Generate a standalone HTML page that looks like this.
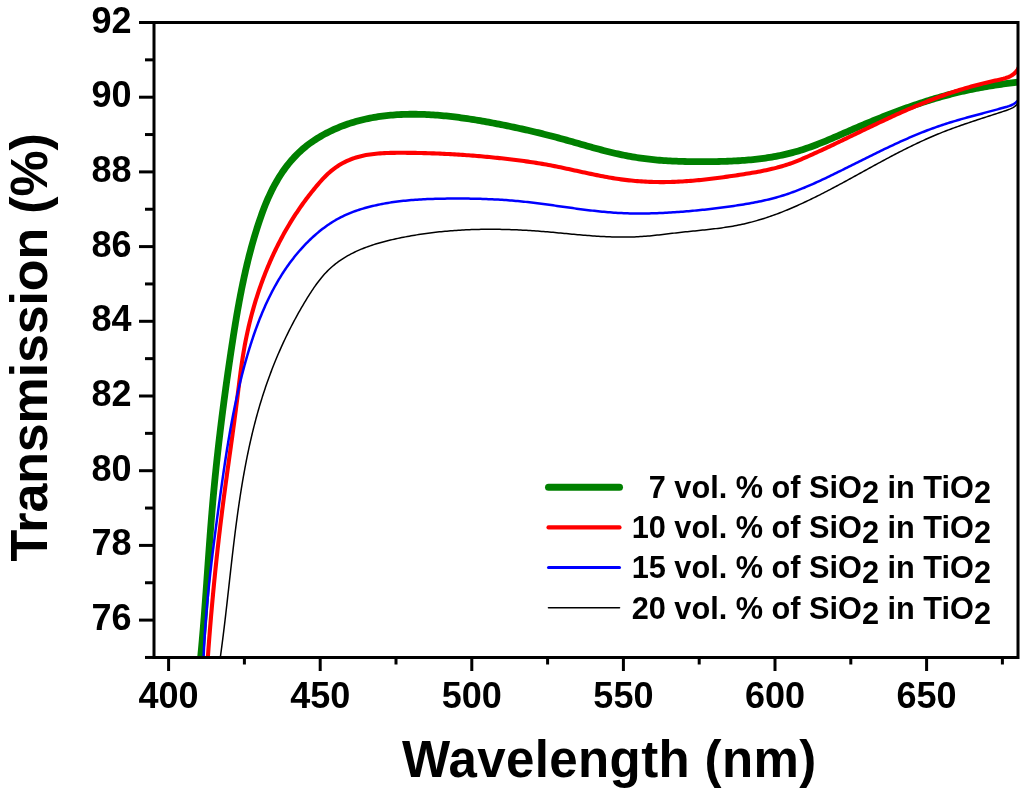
<!DOCTYPE html>
<html><head><meta charset="utf-8"><style>
html,body{margin:0;padding:0;background:#fff;}
body{width:1024px;height:794px;overflow:hidden;font-family:"Liberation Sans", sans-serif;}
svg{display:block;filter:blur(0.4px);}
</style></head><body>
<svg width="1024" height="794" viewBox="0 0 1024 794">
<defs><clipPath id="c"><rect x="154.0" y="22.5" width="864.0" height="635.0"/></clipPath></defs>
<g clip-path="url(#c)" fill="none" stroke-linejoin="round" stroke-linecap="round">
<path d="M200.36,660.00 L200.57,657.89 L200.78,655.78 L200.98,653.67 L201.18,651.56 L201.37,649.44 L201.57,647.33 L201.76,645.22 L201.95,643.11 L202.14,641.00 L202.32,638.89 L202.50,636.77 L202.69,634.66 L202.86,632.55 L203.04,630.44 L203.22,628.32 L203.39,626.21 L203.56,624.10 L203.73,621.99 L203.90,619.87 L204.07,617.76 L204.23,615.65 L204.40,613.53 L204.56,611.42 L204.72,609.31 L204.88,607.19 L205.04,605.08 L205.20,602.97 L205.36,600.85 L205.51,598.74 L205.67,596.62 L205.82,594.51 L205.98,592.40 L206.13,590.28 L206.28,588.17 L206.43,586.05 L206.59,583.94 L206.74,581.83 L206.89,579.71 L207.04,577.60 L207.19,575.48 L207.34,573.37 L207.49,571.26 L207.64,569.14 L207.79,567.03 L207.94,564.91 L208.09,562.80 L208.24,560.69 L208.39,558.57 L208.54,556.46 L208.70,554.34 L208.85,552.23 L209.00,550.12 L209.15,548.00 L209.31,545.89 L209.46,543.78 L209.62,541.66 L209.78,539.55 L209.94,537.44 L210.09,535.32 L210.25,533.21 L210.42,531.10 L210.58,528.98 L210.74,526.87 L210.91,524.76 L211.07,522.65 L211.24,520.53 L211.41,518.42 L211.58,516.31 L211.76,514.20 L211.93,512.08 L212.11,509.97 L212.29,507.86 L212.47,505.75 L212.65,503.64 L212.83,501.53 L213.02,499.42 L213.21,497.30 L213.40,495.19 L213.59,493.08 L213.79,490.97 L213.99,488.86 L214.19,486.75 L214.39,484.64 L214.59,482.53 L214.80,480.42 L215.01,478.31 L215.22,476.20 L215.43,474.10 L215.65,471.99 L215.86,469.88 L216.08,467.77 L216.30,465.66 L216.52,463.55 L216.75,461.45 L216.98,459.34 L217.21,457.23 L217.44,455.12 L217.67,453.02 L217.90,450.91 L218.14,448.80 L218.38,446.69 L218.62,444.59 L218.86,442.48 L219.11,440.38 L219.35,438.27 L219.60,436.16 L219.85,434.06 L220.10,431.95 L220.35,429.85 L220.61,427.74 L220.87,425.64 L221.13,423.54 L221.39,421.43 L221.65,419.33 L221.91,417.22 L222.18,415.12 L222.45,413.02 L222.72,410.91 L222.99,408.81 L223.26,406.71 L223.54,404.61 L223.81,402.50 L224.09,400.40 L224.37,398.30 L224.65,396.20 L224.93,394.10 L225.22,391.99 L225.51,389.89 L225.79,387.79 L226.08,385.69 L226.37,383.59 L226.67,381.49 L226.96,379.39 L227.26,377.29 L227.55,375.19 L227.85,373.09 L228.15,371.00 L228.45,368.90 L228.76,366.80 L229.06,364.70 L229.37,362.60 L229.68,360.51 L229.98,358.41 L230.29,356.31 L230.61,354.21 L230.92,352.12 L231.23,350.02 L231.55,347.92 L231.87,345.83 L232.19,343.73 L232.51,341.64 L232.83,339.54 L233.16,337.45 L233.48,335.35 L233.81,333.26 L234.15,331.17 L234.48,329.08 L234.82,326.98 L235.16,324.89 L235.50,322.80 L235.85,320.71 L236.20,318.62 L236.55,316.53 L236.91,314.45 L237.27,312.36 L237.64,310.27 L238.01,308.19 L238.38,306.10 L238.76,304.02 L239.14,301.94 L239.53,299.86 L239.92,297.78 L240.32,295.70 L240.72,293.62 L241.13,291.54 L241.54,289.46 L241.96,287.39 L242.38,285.32 L242.81,283.24 L243.25,281.17 L243.69,279.10 L244.14,277.03 L244.59,274.97 L245.05,272.90 L245.52,270.84 L245.99,268.77 L246.47,266.71 L246.96,264.65 L247.46,262.60 L247.96,260.54 L248.47,258.48 L248.99,256.43 L249.51,254.38 L250.05,252.33 L250.59,250.28 L251.14,248.24 L251.70,246.19 L252.26,244.15 L252.84,242.11 L253.42,240.07 L254.02,238.03 L254.62,236.00 L255.23,233.97 L255.85,231.94 L256.48,229.91 L257.12,227.88 L257.77,225.86 L258.43,223.83 L259.10,221.81 L259.78,219.80 L260.48,217.79 L261.18,215.78 L261.90,213.77 L262.63,211.77 L263.38,209.78 L264.14,207.79 L264.92,205.81 L265.72,203.84 L266.53,201.88 L267.36,199.92 L268.21,197.97 L269.09,196.04 L269.98,194.11 L270.89,192.19 L271.82,190.29 L272.78,188.39 L273.76,186.51 L274.77,184.64 L275.79,182.79 L276.85,180.95 L277.93,179.12 L279.03,177.31 L280.16,175.51 L281.32,173.74 L282.50,171.98 L283.71,170.24 L284.94,168.52 L286.21,166.83 L287.49,165.15 L288.81,163.50 L290.15,161.86 L291.52,160.26 L292.92,158.68 L294.35,157.12 L295.80,155.59 L297.28,154.09 L298.80,152.62 L300.34,151.17 L301.90,149.76 L303.50,148.37 L305.13,147.02 L306.78,145.70 L308.46,144.41 L310.17,143.14 L311.90,141.91 L313.65,140.71 L315.42,139.54 L317.21,138.40 L319.03,137.28 L320.86,136.20 L322.70,135.15 L324.56,134.12 L326.44,133.13 L328.33,132.16 L330.23,131.22 L332.15,130.32 L334.07,129.44 L336.00,128.58 L337.94,127.76 L339.89,126.96 L341.84,126.20 L343.81,125.46 L345.78,124.74 L347.76,124.05 L349.74,123.39 L351.73,122.76 L353.73,122.15 L355.74,121.56 L357.75,121.00 L359.77,120.47 L361.80,119.96 L363.83,119.47 L365.87,119.01 L367.91,118.57 L369.96,118.16 L372.01,117.77 L374.07,117.40 L376.13,117.05 L378.20,116.72 L380.28,116.42 L382.36,116.14 L384.44,115.87 L386.53,115.63 L388.62,115.41 L390.72,115.21 L392.81,115.03 L394.92,114.87 L397.02,114.72 L399.13,114.60 L401.25,114.50 L403.36,114.41 L405.48,114.34 L407.60,114.29 L409.73,114.25 L411.85,114.23 L413.98,114.23 L416.11,114.25 L418.25,114.28 L420.38,114.33 L422.52,114.39 L424.65,114.46 L426.79,114.56 L428.93,114.66 L431.07,114.78 L433.21,114.92 L435.35,115.06 L437.50,115.23 L439.64,115.40 L441.78,115.58 L443.92,115.78 L446.07,115.99 L448.21,116.21 L450.35,116.45 L452.49,116.69 L454.63,116.95 L456.77,117.21 L458.90,117.49 L461.04,117.77 L463.17,118.06 L465.31,118.37 L467.44,118.68 L469.56,119.00 L471.69,119.33 L473.82,119.66 L475.94,120.01 L478.06,120.36 L480.17,120.72 L482.29,121.08 L484.39,121.45 L486.50,121.83 L488.60,122.21 L490.70,122.60 L492.80,122.99 L494.89,123.39 L496.98,123.79 L499.06,124.20 L501.14,124.60 L503.22,125.02 L505.29,125.43 L507.35,125.86 L509.41,126.28 L511.47,126.71 L513.53,127.14 L515.58,127.58 L517.63,128.02 L519.67,128.46 L521.72,128.91 L523.76,129.37 L525.80,129.82 L527.83,130.29 L529.87,130.76 L531.90,131.23 L533.93,131.71 L535.96,132.19 L537.99,132.68 L540.02,133.17 L542.05,133.67 L544.08,134.18 L546.11,134.69 L548.13,135.20 L550.16,135.72 L552.19,136.25 L554.22,136.78 L556.25,137.32 L558.28,137.87 L560.32,138.42 L562.35,138.98 L564.39,139.55 L566.42,140.11 L568.46,140.69 L570.50,141.27 L572.55,141.85 L574.59,142.43 L576.64,143.01 L578.68,143.60 L580.73,144.18 L582.78,144.77 L584.83,145.35 L586.89,145.93 L588.94,146.51 L591.00,147.09 L593.05,147.66 L595.11,148.22 L597.17,148.78 L599.23,149.34 L601.30,149.89 L603.36,150.43 L605.43,150.96 L607.49,151.48 L609.56,152.00 L611.63,152.50 L613.70,152.99 L615.77,153.47 L617.85,153.94 L619.92,154.39 L622.00,154.83 L624.08,155.26 L626.16,155.67 L628.24,156.07 L630.32,156.45 L632.40,156.82 L634.49,157.17 L636.57,157.51 L638.66,157.83 L640.75,158.14 L642.84,158.43 L644.93,158.71 L647.02,158.97 L649.12,159.22 L651.22,159.45 L653.32,159.67 L655.42,159.87 L657.52,160.06 L659.62,160.24 L661.73,160.40 L663.83,160.55 L665.94,160.69 L668.05,160.82 L670.16,160.93 L672.27,161.04 L674.39,161.13 L676.50,161.22 L678.62,161.30 L680.73,161.37 L682.85,161.43 L684.97,161.48 L687.09,161.53 L689.21,161.57 L691.33,161.61 L693.46,161.64 L695.58,161.66 L697.71,161.68 L699.83,161.69 L701.96,161.70 L704.08,161.70 L706.21,161.69 L708.34,161.68 L710.46,161.66 L712.59,161.64 L714.72,161.61 L716.84,161.57 L718.97,161.52 L721.10,161.46 L723.23,161.40 L725.35,161.33 L727.48,161.25 L729.60,161.17 L731.73,161.08 L733.85,160.97 L735.98,160.86 L738.10,160.74 L740.22,160.61 L742.34,160.47 L744.46,160.31 L746.58,160.15 L748.69,159.97 L750.81,159.78 L752.92,159.57 L755.03,159.35 L757.13,159.12 L759.24,158.87 L761.34,158.60 L763.43,158.32 L765.53,158.03 L767.62,157.71 L769.71,157.38 L771.79,157.04 L773.88,156.68 L775.95,156.30 L778.03,155.90 L780.09,155.48 L782.16,155.05 L784.22,154.60 L786.27,154.13 L788.32,153.64 L790.37,153.13 L792.41,152.60 L794.44,152.05 L796.47,151.48 L798.49,150.89 L800.51,150.28 L802.52,149.65 L804.53,148.99 L806.53,148.32 L808.52,147.63 L810.51,146.93 L812.50,146.21 L814.48,145.47 L816.46,144.72 L818.43,143.95 L820.40,143.18 L822.37,142.39 L824.33,141.59 L826.29,140.78 L828.25,139.97 L830.21,139.14 L832.16,138.31 L834.12,137.47 L836.07,136.63 L838.02,135.78 L839.97,134.94 L841.92,134.09 L843.87,133.23 L845.82,132.38 L847.77,131.53 L849.72,130.68 L851.67,129.83 L853.62,128.99 L855.57,128.15 L857.52,127.31 L859.48,126.48 L861.43,125.65 L863.39,124.82 L865.35,123.99 L867.31,123.17 L869.27,122.36 L871.23,121.55 L873.19,120.74 L875.16,119.94 L877.12,119.14 L879.09,118.35 L881.06,117.56 L883.03,116.77 L885.00,115.99 L886.97,115.22 L888.95,114.45 L890.93,113.69 L892.90,112.93 L894.88,112.18 L896.87,111.44 L898.85,110.70 L900.84,109.97 L902.82,109.24 L904.81,108.52 L906.80,107.81 L908.80,107.10 L910.79,106.40 L912.79,105.71 L914.79,105.02 L916.79,104.35 L918.80,103.67 L920.81,103.01 L922.81,102.36 L924.83,101.71 L926.84,101.07 L928.86,100.44 L930.88,99.82 L932.90,99.20 L934.92,98.59 L936.95,98.00 L938.98,97.41 L941.01,96.83 L943.05,96.26 L945.08,95.70 L947.12,95.15 L949.17,94.60 L951.21,94.07 L953.26,93.55 L955.32,93.03 L957.37,92.53 L959.43,92.04 L961.49,91.56 L963.56,91.08 L965.63,90.62 L967.70,90.17 L969.77,89.73 L971.85,89.30 L973.93,88.89 L976.02,88.48 L978.10,88.08 L980.19,87.69 L982.28,87.32 L984.38,86.95 L986.48,86.59 L988.57,86.24 L990.67,85.89 L992.78,85.56 L994.88,85.23 L996.98,84.91 L999.09,84.60 L1001.19,84.30 L1003.30,84.00 L1005.41,83.71 L1007.52,83.42 L1009.62,83.15 L1011.73,82.87 L1013.84,82.60 L1015.95,82.34 L1018.05,82.08" stroke="#008000" stroke-width="6.8"/>
<path d="M207.66,660.00 L207.81,657.94 L207.95,655.89 L208.10,653.84 L208.25,651.79 L208.40,649.74 L208.55,647.69 L208.71,645.64 L208.86,643.58 L209.02,641.53 L209.17,639.48 L209.33,637.43 L209.49,635.38 L209.66,633.33 L209.82,631.28 L209.98,629.23 L210.15,627.18 L210.32,625.13 L210.49,623.08 L210.66,621.03 L210.83,618.98 L211.00,616.93 L211.18,614.88 L211.36,612.83 L211.54,610.78 L211.71,608.73 L211.90,606.68 L212.08,604.63 L212.26,602.58 L212.45,600.53 L212.64,598.49 L212.83,596.44 L213.02,594.39 L213.21,592.34 L213.40,590.29 L213.60,588.24 L213.79,586.20 L213.99,584.15 L214.19,582.10 L214.39,580.05 L214.60,578.01 L214.80,575.96 L215.01,573.91 L215.21,571.87 L215.42,569.82 L215.63,567.77 L215.85,565.73 L216.06,563.68 L216.28,561.64 L216.49,559.59 L216.71,557.54 L216.93,555.50 L217.15,553.45 L217.38,551.41 L217.60,549.36 L217.83,547.32 L218.06,545.27 L218.29,543.23 L218.52,541.19 L218.75,539.14 L218.98,537.10 L219.22,535.05 L219.46,533.01 L219.70,530.97 L219.94,528.92 L220.18,526.88 L220.43,524.84 L220.67,522.80 L220.92,520.75 L221.17,518.71 L221.42,516.67 L221.67,514.63 L221.93,512.59 L222.18,510.55 L222.44,508.51 L222.70,506.47 L222.96,504.43 L223.22,502.38 L223.49,500.34 L223.75,498.31 L224.02,496.27 L224.29,494.23 L224.56,492.19 L224.83,490.15 L225.11,488.11 L225.38,486.07 L225.66,484.03 L225.93,481.99 L226.21,479.96 L226.49,477.92 L226.77,475.88 L227.05,473.84 L227.33,471.80 L227.61,469.77 L227.89,467.73 L228.18,465.69 L228.46,463.65 L228.74,461.62 L229.03,459.58 L229.31,457.54 L229.59,455.50 L229.88,453.47 L230.16,451.43 L230.44,449.39 L230.73,447.36 L231.01,445.32 L231.29,443.28 L231.58,441.24 L231.86,439.21 L232.14,437.17 L232.42,435.13 L232.70,433.09 L232.98,431.05 L233.26,429.02 L233.53,426.98 L233.81,424.94 L234.09,422.90 L234.36,420.86 L234.63,418.82 L234.90,416.78 L235.17,414.74 L235.44,412.70 L235.71,410.66 L235.97,408.63 L236.24,406.58 L236.50,404.54 L236.76,402.50 L237.02,400.46 L237.27,398.42 L237.53,396.38 L237.78,394.34 L238.03,392.30 L238.28,390.25 L238.54,388.21 L238.79,386.17 L239.04,384.13 L239.30,382.09 L239.56,380.05 L239.82,378.01 L240.08,375.97 L240.35,373.93 L240.62,371.89 L240.90,369.85 L241.18,367.81 L241.47,365.78 L241.76,363.74 L242.06,361.71 L242.37,359.67 L242.68,357.64 L243.01,355.61 L243.34,353.58 L243.68,351.55 L244.03,349.52 L244.38,347.49 L244.75,345.47 L245.13,343.44 L245.52,341.42 L245.92,339.40 L246.33,337.38 L246.75,335.36 L247.18,333.35 L247.61,331.34 L248.06,329.33 L248.52,327.32 L248.99,325.31 L249.47,323.31 L249.96,321.31 L250.46,319.31 L250.97,317.31 L251.49,315.32 L252.02,313.33 L252.56,311.34 L253.11,309.36 L253.67,307.38 L254.25,305.40 L254.83,303.42 L255.42,301.45 L256.03,299.48 L256.64,297.52 L257.27,295.55 L257.90,293.60 L258.55,291.64 L259.21,289.69 L259.88,287.74 L260.55,285.80 L261.24,283.86 L261.94,281.93 L262.66,280.00 L263.38,278.07 L264.11,276.15 L264.86,274.23 L265.61,272.32 L266.38,270.41 L267.16,268.51 L267.94,266.61 L268.74,264.72 L269.55,262.83 L270.38,260.94 L271.21,259.06 L272.05,257.19 L272.91,255.32 L273.78,253.46 L274.66,251.60 L275.55,249.75 L276.45,247.90 L277.36,246.06 L278.28,244.23 L279.22,242.40 L280.17,240.57 L281.13,238.76 L282.10,236.94 L283.08,235.14 L284.07,233.34 L285.08,231.55 L286.10,229.76 L287.13,227.98 L288.17,226.21 L289.22,224.44 L290.28,222.68 L291.36,220.93 L292.45,219.18 L293.55,217.45 L294.66,215.71 L295.78,213.99 L296.92,212.27 L298.07,210.56 L299.23,208.86 L300.40,207.17 L301.58,205.48 L302.77,203.81 L303.98,202.14 L305.20,200.47 L306.43,198.82 L307.67,197.18 L308.92,195.54 L310.19,193.91 L311.47,192.30 L312.76,190.69 L314.06,189.09 L315.37,187.50 L316.69,185.91 L318.03,184.34 L319.38,182.78 L320.74,181.23 L322.13,179.70 L323.53,178.20 L324.96,176.71 L326.42,175.26 L327.90,173.84 L329.42,172.45 L330.97,171.11 L332.56,169.81 L334.19,168.55 L335.86,167.34 L337.57,166.18 L339.31,165.07 L341.08,164.02 L342.88,163.01 L344.71,162.06 L346.56,161.16 L348.43,160.32 L350.31,159.53 L352.22,158.80 L354.14,158.12 L356.08,157.50 L358.03,156.93 L359.99,156.41 L361.97,155.93 L363.95,155.49 L365.95,155.10 L367.96,154.75 L369.98,154.44 L372.01,154.16 L374.05,153.91 L376.09,153.70 L378.14,153.52 L380.20,153.36 L382.26,153.23 L384.33,153.12 L386.40,153.03 L388.47,152.96 L390.55,152.90 L392.63,152.87 L394.71,152.84 L396.78,152.82 L398.86,152.81 L400.94,152.81 L403.02,152.81 L405.09,152.82 L407.16,152.83 L409.23,152.85 L411.30,152.87 L413.37,152.89 L415.44,152.92 L417.50,152.96 L419.57,153.00 L421.63,153.04 L423.69,153.09 L425.75,153.14 L427.81,153.20 L429.87,153.27 L431.92,153.33 L433.98,153.40 L436.03,153.48 L438.09,153.56 L440.14,153.65 L442.19,153.74 L444.24,153.83 L446.29,153.93 L448.34,154.04 L450.39,154.15 L452.44,154.26 L454.49,154.38 L456.54,154.50 L458.58,154.63 L460.63,154.76 L462.67,154.89 L464.72,155.03 L466.76,155.18 L468.81,155.33 L470.85,155.48 L472.89,155.64 L474.94,155.80 L476.98,155.97 L479.02,156.14 L481.06,156.31 L483.11,156.49 L485.15,156.68 L487.19,156.87 L489.23,157.06 L491.28,157.26 L493.32,157.46 L495.36,157.67 L497.41,157.88 L499.45,158.09 L501.49,158.31 L503.54,158.54 L505.58,158.76 L507.62,159.00 L509.67,159.24 L511.71,159.48 L513.75,159.73 L515.80,159.98 L517.84,160.24 L519.88,160.51 L521.92,160.78 L523.97,161.06 L526.01,161.35 L528.05,161.64 L530.09,161.94 L532.12,162.24 L534.16,162.56 L536.20,162.88 L538.23,163.21 L540.26,163.54 L542.30,163.89 L544.33,164.24 L546.36,164.60 L548.38,164.97 L550.41,165.35 L552.43,165.74 L554.46,166.13 L556.48,166.54 L558.50,166.94 L560.52,167.36 L562.53,167.78 L564.55,168.21 L566.57,168.64 L568.58,169.07 L570.59,169.51 L572.61,169.95 L574.62,170.39 L576.63,170.83 L578.64,171.27 L580.66,171.71 L582.67,172.14 L584.68,172.58 L586.69,173.02 L588.70,173.45 L590.72,173.87 L592.73,174.30 L594.74,174.71 L596.76,175.12 L598.77,175.53 L600.79,175.93 L602.81,176.31 L604.83,176.69 L606.85,177.07 L608.87,177.43 L610.89,177.78 L612.92,178.12 L614.94,178.44 L616.97,178.76 L619.00,179.06 L621.03,179.35 L623.07,179.62 L625.10,179.88 L627.14,180.12 L629.18,180.35 L631.22,180.56 L633.27,180.76 L635.31,180.94 L637.36,181.12 L639.41,181.27 L641.46,181.41 L643.51,181.54 L645.56,181.66 L647.61,181.76 L649.66,181.85 L651.72,181.92 L653.77,181.98 L655.82,182.03 L657.88,182.06 L659.94,182.08 L661.99,182.08 L664.05,182.08 L666.10,182.06 L668.16,182.02 L670.21,181.98 L672.26,181.92 L674.32,181.85 L676.37,181.76 L678.42,181.67 L680.48,181.56 L682.53,181.44 L684.58,181.31 L686.63,181.17 L688.68,181.02 L690.73,180.86 L692.78,180.69 L694.83,180.51 L696.88,180.33 L698.93,180.13 L700.98,179.92 L703.02,179.71 L705.07,179.48 L707.12,179.25 L709.16,179.02 L711.21,178.77 L713.25,178.52 L715.30,178.26 L717.34,178.00 L719.38,177.73 L721.43,177.46 L723.47,177.18 L725.51,176.89 L727.55,176.60 L729.60,176.31 L731.64,176.01 L733.68,175.71 L735.72,175.41 L737.76,175.10 L739.80,174.79 L741.83,174.48 L743.87,174.16 L745.91,173.84 L747.94,173.52 L749.98,173.19 L752.01,172.85 L754.04,172.50 L756.06,172.15 L758.09,171.78 L760.11,171.40 L762.13,171.01 L764.14,170.61 L766.15,170.20 L768.15,169.76 L770.15,169.32 L772.14,168.85 L774.13,168.37 L776.12,167.87 L778.09,167.35 L780.06,166.81 L782.03,166.24 L783.98,165.66 L785.93,165.05 L787.87,164.41 L789.81,163.75 L791.73,163.06 L793.65,162.35 L795.56,161.61 L797.46,160.85 L799.36,160.08 L801.25,159.29 L803.14,158.48 L805.02,157.66 L806.90,156.84 L808.78,156.00 L810.65,155.16 L812.53,154.31 L814.40,153.46 L816.27,152.61 L818.13,151.75 L820.00,150.89 L821.86,150.03 L823.73,149.16 L825.59,148.29 L827.45,147.42 L829.31,146.54 L831.17,145.66 L833.03,144.78 L834.88,143.90 L836.74,143.01 L838.59,142.13 L840.45,141.24 L842.30,140.35 L844.16,139.46 L846.01,138.57 L847.86,137.68 L849.71,136.78 L851.56,135.89 L853.42,134.99 L855.27,134.10 L857.12,133.20 L858.97,132.31 L860.82,131.41 L862.68,130.52 L864.53,129.62 L866.38,128.73 L868.23,127.84 L870.09,126.95 L871.94,126.06 L873.80,125.17 L875.65,124.29 L877.51,123.40 L879.37,122.52 L881.23,121.64 L883.09,120.77 L884.95,119.89 L886.81,119.02 L888.68,118.15 L890.54,117.29 L892.41,116.43 L894.28,115.57 L896.15,114.72 L898.02,113.87 L899.89,113.03 L901.77,112.19 L903.65,111.35 L905.53,110.53 L907.41,109.70 L909.29,108.88 L911.18,108.07 L913.07,107.26 L914.96,106.46 L916.86,105.66 L918.75,104.87 L920.65,104.09 L922.55,103.31 L924.46,102.54 L926.37,101.78 L928.28,101.02 L930.19,100.28 L932.11,99.54 L934.03,98.80 L935.96,98.08 L937.88,97.36 L939.82,96.66 L941.75,95.96 L943.69,95.27 L945.63,94.58 L947.58,93.91 L949.52,93.25 L951.48,92.59 L953.43,91.95 L955.39,91.31 L957.36,90.68 L959.32,90.06 L961.29,89.46 L963.27,88.86 L965.25,88.27 L967.23,87.68 L969.21,87.11 L971.20,86.55 L973.19,86.00 L975.19,85.46 L977.18,84.92 L979.19,84.40 L981.19,83.89 L983.20,83.38 L985.21,82.89 L987.23,82.41 L989.25,81.94 L991.27,81.47 L993.30,81.02 L995.33,80.58 L997.36,80.15 L999.38,79.71 L1001.39,79.24 L1003.36,78.74 L1005.29,78.18 L1007.16,77.54 L1008.96,76.82 L1010.69,75.98 L1012.32,75.02 L1013.85,73.91 L1015.26,72.64 L1016.54,71.19 L1017.67,69.53 L1018.64,67.65" stroke="#ff0000" stroke-width="4.1"/>
<path d="M203.49,660.01 L203.57,658.04 L203.65,656.06 L203.73,654.08 L203.82,652.11 L203.91,650.13 L204.01,648.16 L204.11,646.18 L204.22,644.21 L204.33,642.24 L204.44,640.26 L204.56,638.29 L204.68,636.32 L204.80,634.35 L204.93,632.38 L205.06,630.41 L205.20,628.44 L205.34,626.47 L205.48,624.50 L205.63,622.53 L205.78,620.57 L205.93,618.60 L206.09,616.63 L206.24,614.67 L206.41,612.70 L206.57,610.73 L206.74,608.77 L206.91,606.81 L207.09,604.84 L207.27,602.88 L207.45,600.91 L207.63,598.95 L207.82,596.99 L208.01,595.02 L208.20,593.06 L208.39,591.10 L208.59,589.14 L208.79,587.18 L208.99,585.22 L209.20,583.26 L209.41,581.30 L209.62,579.34 L209.83,577.38 L210.04,575.42 L210.26,573.46 L210.48,571.50 L210.70,569.54 L210.93,567.58 L211.15,565.62 L211.38,563.66 L211.61,561.71 L211.84,559.75 L212.07,557.79 L212.31,555.83 L212.55,553.88 L212.79,551.92 L213.03,549.96 L213.27,548.01 L213.51,546.05 L213.76,544.09 L214.01,542.14 L214.26,540.18 L214.51,538.22 L214.76,536.27 L215.01,534.31 L215.27,532.36 L215.52,530.40 L215.78,528.44 L216.04,526.49 L216.30,524.53 L216.56,522.58 L216.82,520.62 L217.08,518.67 L217.34,516.71 L217.61,514.75 L217.87,512.80 L218.14,510.84 L218.40,508.89 L218.67,506.93 L218.94,504.98 L219.21,503.02 L219.48,501.06 L219.75,499.11 L220.02,497.15 L220.29,495.19 L220.56,493.24 L220.83,491.28 L221.10,489.33 L221.38,487.37 L221.65,485.41 L221.93,483.46 L222.21,481.50 L222.48,479.55 L222.76,477.59 L223.05,475.64 L223.33,473.68 L223.62,471.73 L223.90,469.77 L224.19,467.82 L224.48,465.86 L224.77,463.91 L225.07,461.96 L225.37,460.00 L225.67,458.05 L225.97,456.10 L226.27,454.15 L226.58,452.20 L226.89,450.25 L227.20,448.30 L227.52,446.35 L227.84,444.40 L228.16,442.45 L228.48,440.50 L228.81,438.55 L229.14,436.61 L229.48,434.66 L229.81,432.72 L230.16,430.77 L230.50,428.83 L230.85,426.89 L231.20,424.94 L231.56,423.00 L231.92,421.06 L232.29,419.12 L232.65,417.18 L233.03,415.25 L233.41,413.31 L233.79,411.37 L234.17,409.44 L234.57,407.51 L234.96,405.57 L235.36,403.64 L235.77,401.71 L236.18,399.78 L236.60,397.85 L237.02,395.93 L237.44,394.00 L237.88,392.08 L238.31,390.15 L238.76,388.23 L239.21,386.31 L239.66,384.39 L240.12,382.47 L240.59,380.55 L241.06,378.64 L241.54,376.72 L242.02,374.81 L242.51,372.90 L243.01,370.99 L243.51,369.08 L244.02,367.17 L244.54,365.27 L245.06,363.36 L245.59,361.46 L246.13,359.56 L246.67,357.66 L247.22,355.76 L247.78,353.87 L248.35,351.97 L248.92,350.08 L249.50,348.19 L250.09,346.30 L250.68,344.42 L251.29,342.53 L251.90,340.65 L252.52,338.77 L253.15,336.89 L253.79,335.02 L254.43,333.15 L255.09,331.29 L255.75,329.42 L256.43,327.56 L257.11,325.71 L257.80,323.86 L258.51,322.01 L259.22,320.17 L259.94,318.33 L260.68,316.50 L261.42,314.67 L262.18,312.85 L262.95,311.03 L263.73,309.22 L264.52,307.41 L265.32,305.61 L266.13,303.82 L266.96,302.03 L267.80,300.25 L268.65,298.48 L269.51,296.71 L270.39,294.95 L271.27,293.20 L272.18,291.45 L273.09,289.72 L274.02,287.99 L274.96,286.26 L275.92,284.55 L276.89,282.85 L277.87,281.15 L278.87,279.46 L279.89,277.78 L280.91,276.11 L281.96,274.45 L283.02,272.80 L284.09,271.16 L285.18,269.53 L286.28,267.91 L287.40,266.30 L288.54,264.70 L289.70,263.11 L290.86,261.53 L292.05,259.96 L293.25,258.40 L294.47,256.85 L295.71,255.32 L296.97,253.80 L298.24,252.29 L299.53,250.79 L300.84,249.30 L302.16,247.83 L303.51,246.37 L304.87,244.92 L306.25,243.48 L307.65,242.06 L309.07,240.65 L310.50,239.26 L311.96,237.89 L313.43,236.54 L314.92,235.20 L316.43,233.88 L317.95,232.58 L319.49,231.31 L321.05,230.06 L322.63,228.83 L324.22,227.63 L325.83,226.45 L327.45,225.29 L329.10,224.17 L330.75,223.07 L332.43,222.01 L334.12,220.97 L335.82,219.96 L337.54,218.99 L339.28,218.05 L341.03,217.14 L342.79,216.27 L344.57,215.43 L346.37,214.62 L348.17,213.84 L349.99,213.10 L351.82,212.38 L353.65,211.69 L355.50,211.03 L357.36,210.39 L359.22,209.77 L361.10,209.18 L362.98,208.61 L364.86,208.07 L366.75,207.54 L368.65,207.03 L370.55,206.54 L372.45,206.08 L374.36,205.63 L376.27,205.19 L378.19,204.78 L380.11,204.38 L382.04,204.00 L383.97,203.64 L385.90,203.29 L387.84,202.96 L389.78,202.64 L391.72,202.34 L393.67,202.06 L395.62,201.79 L397.58,201.53 L399.53,201.29 L401.49,201.06 L403.45,200.84 L405.41,200.64 L407.38,200.45 L409.35,200.27 L411.32,200.10 L413.29,199.94 L415.26,199.79 L417.24,199.66 L419.21,199.53 L421.19,199.41 L423.17,199.31 L425.15,199.21 L427.13,199.12 L429.11,199.04 L431.09,198.96 L433.07,198.90 L435.06,198.84 L437.04,198.78 L439.02,198.74 L441.00,198.70 L442.99,198.66 L444.97,198.63 L446.95,198.61 L448.93,198.58 L450.91,198.57 L452.89,198.56 L454.87,198.55 L456.84,198.54 L458.82,198.54 L460.79,198.55 L462.77,198.56 L464.74,198.57 L466.72,198.59 L468.69,198.61 L470.66,198.64 L472.63,198.67 L474.60,198.71 L476.57,198.75 L478.54,198.80 L480.51,198.85 L482.48,198.91 L484.45,198.98 L486.41,199.05 L488.38,199.13 L490.34,199.21 L492.31,199.30 L494.27,199.39 L496.24,199.49 L498.20,199.60 L500.17,199.72 L502.13,199.84 L504.09,199.97 L506.05,200.10 L508.02,200.25 L509.98,200.40 L511.94,200.55 L513.90,200.72 L515.86,200.89 L517.82,201.07 L519.78,201.26 L521.74,201.45 L523.70,201.66 L525.66,201.87 L527.62,202.08 L529.58,202.31 L531.54,202.54 L533.50,202.77 L535.46,203.01 L537.42,203.26 L539.38,203.51 L541.34,203.76 L543.29,204.02 L545.25,204.28 L547.21,204.55 L549.17,204.82 L551.13,205.09 L553.09,205.36 L555.05,205.63 L557.01,205.91 L558.96,206.18 L560.92,206.46 L562.88,206.74 L564.84,207.01 L566.80,207.29 L568.76,207.56 L570.72,207.83 L572.68,208.10 L574.64,208.37 L576.60,208.64 L578.56,208.90 L580.52,209.16 L582.48,209.41 L584.44,209.66 L586.40,209.91 L588.36,210.15 L590.32,210.39 L592.28,210.62 L594.24,210.84 L596.20,211.06 L598.16,211.27 L600.13,211.47 L602.09,211.67 L604.05,211.85 L606.02,212.03 L607.98,212.20 L609.94,212.36 L611.91,212.52 L613.87,212.66 L615.84,212.79 L617.80,212.91 L619.77,213.02 L621.74,213.12 L623.70,213.20 L625.67,213.28 L627.64,213.34 L629.60,213.40 L631.57,213.44 L633.54,213.47 L635.51,213.50 L637.48,213.51 L639.45,213.51 L641.42,213.51 L643.39,213.49 L645.36,213.47 L647.33,213.44 L649.30,213.40 L651.27,213.35 L653.24,213.29 L655.21,213.23 L657.18,213.15 L659.15,213.07 L661.12,212.99 L663.09,212.89 L665.06,212.79 L667.03,212.69 L668.99,212.57 L670.96,212.45 L672.93,212.33 L674.90,212.20 L676.87,212.06 L678.84,211.92 L680.81,211.78 L682.77,211.63 L684.74,211.47 L686.71,211.31 L688.68,211.15 L690.64,210.98 L692.61,210.80 L694.57,210.62 L696.54,210.44 L698.50,210.25 L700.47,210.05 L702.43,209.85 L704.39,209.65 L706.36,209.44 L708.32,209.22 L710.28,209.00 L712.24,208.77 L714.20,208.54 L716.16,208.30 L718.12,208.06 L720.08,207.81 L722.04,207.56 L723.99,207.30 L725.95,207.04 L727.91,206.77 L729.86,206.49 L731.82,206.21 L733.77,205.92 L735.72,205.63 L737.68,205.33 L739.63,205.02 L741.58,204.71 L743.53,204.40 L745.48,204.07 L747.43,203.74 L749.37,203.40 L751.32,203.05 L753.26,202.69 L755.20,202.33 L757.14,201.95 L759.07,201.56 L761.00,201.16 L762.93,200.74 L764.85,200.32 L766.77,199.88 L768.69,199.42 L770.60,198.95 L772.51,198.47 L774.41,197.97 L776.31,197.45 L778.21,196.91 L780.09,196.36 L781.98,195.79 L783.85,195.20 L785.72,194.60 L787.59,193.98 L789.45,193.34 L791.31,192.68 L793.16,192.02 L795.00,191.33 L796.85,190.63 L798.68,189.92 L800.52,189.20 L802.35,188.46 L804.17,187.72 L805.99,186.96 L807.81,186.19 L809.63,185.41 L811.44,184.62 L813.24,183.82 L815.05,183.01 L816.85,182.20 L818.65,181.38 L820.44,180.55 L822.23,179.71 L824.02,178.87 L825.81,178.02 L827.60,177.17 L829.38,176.32 L831.16,175.46 L832.94,174.60 L834.72,173.73 L836.49,172.86 L838.27,171.99 L840.04,171.12 L841.81,170.25 L843.58,169.37 L845.35,168.49 L847.12,167.61 L848.89,166.73 L850.65,165.85 L852.42,164.97 L854.18,164.09 L855.95,163.21 L857.71,162.32 L859.48,161.44 L861.24,160.56 L863.01,159.68 L864.77,158.80 L866.54,157.92 L868.30,157.04 L870.07,156.16 L871.83,155.29 L873.60,154.42 L875.37,153.54 L877.14,152.68 L878.90,151.81 L880.68,150.95 L882.45,150.09 L884.22,149.23 L886.00,148.38 L887.77,147.53 L889.55,146.69 L891.33,145.85 L893.11,145.01 L894.89,144.18 L896.68,143.36 L898.47,142.54 L900.26,141.72 L902.05,140.91 L903.85,140.11 L905.65,139.31 L907.45,138.52 L909.25,137.73 L911.06,136.96 L912.87,136.18 L914.68,135.42 L916.50,134.66 L918.32,133.92 L920.14,133.17 L921.97,132.44 L923.80,131.72 L925.63,131.00 L927.47,130.29 L929.32,129.60 L931.17,128.91 L933.02,128.23 L934.87,127.56 L936.73,126.90 L938.60,126.25 L940.47,125.61 L942.35,124.98 L944.23,124.37 L946.11,123.76 L948.00,123.16 L949.89,122.56 L951.78,121.98 L953.68,121.41 L955.58,120.84 L957.49,120.28 L959.39,119.72 L961.30,119.17 L963.21,118.63 L965.12,118.09 L967.03,117.56 L968.94,117.03 L970.86,116.51 L972.77,115.99 L974.69,115.47 L976.60,114.95 L978.51,114.44 L980.42,113.93 L982.34,113.42 L984.24,112.91 L986.15,112.40 L988.06,111.89 L989.96,111.39 L991.86,110.88 L993.76,110.37 L995.66,109.85 L997.55,109.34 L999.44,108.82 L1001.32,108.30 L1003.21,107.78 L1005.08,107.25 L1006.95,106.72 L1008.79,106.14 L1010.59,105.49 L1012.33,104.74 L1013.99,103.84 L1015.55,102.78 L1016.99,101.50 L1018.30,99.99" stroke="#0000ff" stroke-width="2.5"/>
<path d="M219.96,659.83 L220.22,657.98 L220.48,656.12 L220.74,654.26 L220.99,652.40 L221.24,650.53 L221.49,648.67 L221.74,646.80 L221.98,644.93 L222.23,643.07 L222.47,641.20 L222.71,639.33 L222.94,637.45 L223.18,635.58 L223.41,633.71 L223.64,631.83 L223.87,629.96 L224.10,628.08 L224.33,626.20 L224.55,624.32 L224.78,622.44 L225.00,620.56 L225.22,618.68 L225.44,616.80 L225.66,614.92 L225.88,613.03 L226.09,611.15 L226.31,609.26 L226.52,607.38 L226.74,605.49 L226.95,603.60 L227.17,601.71 L227.38,599.82 L227.59,597.93 L227.80,596.04 L228.01,594.15 L228.22,592.26 L228.44,590.37 L228.65,588.48 L228.86,586.59 L229.07,584.69 L229.28,582.80 L229.49,580.91 L229.70,579.01 L229.91,577.12 L230.12,575.23 L230.33,573.33 L230.55,571.44 L230.76,569.54 L230.97,567.65 L231.19,565.75 L231.40,563.86 L231.62,561.96 L231.84,560.06 L232.05,558.17 L232.27,556.27 L232.49,554.38 L232.71,552.48 L232.94,550.59 L233.16,548.69 L233.38,546.80 L233.61,544.90 L233.84,543.01 L234.07,541.11 L234.30,539.22 L234.53,537.32 L234.77,535.43 L235.01,533.53 L235.24,531.64 L235.48,529.75 L235.73,527.86 L235.97,525.96 L236.22,524.07 L236.47,522.18 L236.72,520.29 L236.98,518.40 L237.23,516.51 L237.49,514.62 L237.75,512.73 L238.02,510.84 L238.29,508.96 L238.56,507.07 L238.83,505.18 L239.11,503.30 L239.38,501.41 L239.67,499.53 L239.95,497.65 L240.24,495.76 L240.53,493.88 L240.83,492.00 L241.13,490.12 L241.43,488.24 L241.74,486.37 L242.05,484.49 L242.36,482.61 L242.68,480.74 L243.00,478.86 L243.33,476.99 L243.66,475.12 L243.99,473.25 L244.33,471.38 L244.67,469.51 L245.01,467.65 L245.37,465.78 L245.72,463.92 L246.08,462.05 L246.44,460.19 L246.81,458.33 L247.19,456.47 L247.57,454.61 L247.95,452.76 L248.34,450.90 L248.73,449.05 L249.13,447.20 L249.53,445.35 L249.94,443.50 L250.35,441.65 L250.77,439.81 L251.20,437.96 L251.63,436.12 L252.06,434.28 L252.50,432.44 L252.95,430.61 L253.40,428.77 L253.86,426.94 L254.33,425.10 L254.80,423.27 L255.27,421.45 L255.76,419.62 L256.25,417.80 L256.74,415.97 L257.24,414.15 L257.75,412.34 L258.27,410.52 L258.79,408.70 L259.31,406.89 L259.85,405.08 L260.39,403.27 L260.94,401.47 L261.49,399.67 L262.05,397.86 L262.62,396.06 L263.20,394.27 L263.78,392.47 L264.37,390.68 L264.97,388.89 L265.57,387.10 L266.18,385.32 L266.80,383.53 L267.42,381.75 L268.06,379.97 L268.70,378.20 L269.34,376.42 L270.00,374.65 L270.66,372.88 L271.33,371.11 L272.01,369.35 L272.69,367.59 L273.38,365.83 L274.08,364.07 L274.79,362.31 L275.50,360.56 L276.23,358.81 L276.96,357.06 L277.69,355.31 L278.44,353.57 L279.19,351.83 L279.95,350.09 L280.72,348.36 L281.50,346.62 L282.29,344.89 L283.08,343.16 L283.88,341.44 L284.69,339.71 L285.50,337.99 L286.33,336.28 L287.16,334.56 L288.00,332.85 L288.85,331.14 L289.71,329.43 L290.58,327.72 L291.45,326.02 L292.33,324.32 L293.22,322.62 L294.12,320.93 L295.03,319.24 L295.94,317.55 L296.87,315.86 L297.80,314.17 L298.74,312.49 L299.69,310.81 L300.65,309.14 L301.62,307.46 L302.59,305.79 L303.58,304.13 L304.57,302.46 L305.57,300.80 L306.58,299.14 L307.60,297.48 L308.63,295.83 L309.67,294.19 L310.72,292.55 L311.79,290.92 L312.86,289.31 L313.96,287.70 L315.06,286.11 L316.19,284.54 L317.32,282.98 L318.48,281.45 L319.66,279.93 L320.85,278.44 L322.06,276.97 L323.30,275.53 L324.55,274.11 L325.83,272.72 L327.14,271.36 L328.46,270.04 L329.81,268.75 L331.19,267.49 L332.59,266.26 L334.02,265.07 L335.46,263.91 L336.93,262.77 L338.43,261.68 L339.94,260.61 L341.47,259.57 L343.03,258.55 L344.60,257.57 L346.20,256.62 L347.81,255.69 L349.44,254.79 L351.08,253.91 L352.75,253.06 L354.42,252.24 L356.12,251.44 L357.83,250.66 L359.55,249.91 L361.29,249.17 L363.04,248.47 L364.80,247.78 L366.57,247.11 L368.35,246.46 L370.15,245.84 L371.95,245.23 L373.77,244.64 L375.59,244.07 L377.42,243.51 L379.26,242.97 L381.11,242.45 L382.96,241.94 L384.82,241.45 L386.68,240.98 L388.55,240.51 L390.42,240.06 L392.29,239.62 L394.17,239.20 L396.05,238.79 L397.93,238.38 L399.81,237.99 L401.69,237.61 L403.58,237.23 L405.46,236.87 L407.34,236.51 L409.23,236.17 L411.11,235.83 L412.99,235.51 L414.88,235.19 L416.76,234.88 L418.65,234.58 L420.53,234.29 L422.42,234.01 L424.30,233.74 L426.19,233.47 L428.07,233.22 L429.96,232.97 L431.85,232.74 L433.73,232.51 L435.62,232.29 L437.51,232.07 L439.39,231.87 L441.28,231.68 L443.17,231.49 L445.06,231.31 L446.95,231.14 L448.83,230.97 L450.72,230.82 L452.61,230.67 L454.50,230.53 L456.39,230.40 L458.28,230.28 L460.17,230.16 L462.06,230.05 L463.95,229.95 L465.84,229.86 L467.73,229.77 L469.63,229.69 L471.52,229.62 L473.41,229.55 L475.30,229.50 L477.19,229.44 L479.09,229.40 L480.98,229.36 L482.87,229.33 L484.76,229.31 L486.66,229.29 L488.55,229.28 L490.44,229.28 L492.34,229.28 L494.23,229.29 L496.13,229.30 L498.02,229.33 L499.91,229.35 L501.81,229.39 L503.70,229.43 L505.60,229.47 L507.50,229.53 L509.39,229.58 L511.29,229.65 L513.18,229.72 L515.08,229.79 L516.97,229.87 L518.87,229.96 L520.77,230.05 L522.66,230.15 L524.56,230.25 L526.46,230.36 L528.36,230.47 L530.25,230.59 L532.15,230.71 L534.05,230.84 L535.95,230.98 L537.85,231.11 L539.74,231.26 L541.64,231.40 L543.54,231.56 L545.44,231.71 L547.34,231.87 L549.24,232.04 L551.14,232.20 L553.04,232.37 L554.94,232.54 L556.84,232.72 L558.74,232.89 L560.63,233.07 L562.53,233.25 L564.43,233.42 L566.33,233.60 L568.23,233.78 L570.13,233.95 L572.03,234.13 L573.93,234.30 L575.83,234.48 L577.73,234.65 L579.62,234.81 L581.52,234.98 L583.42,235.14 L585.32,235.30 L587.22,235.45 L589.11,235.60 L591.01,235.74 L592.91,235.88 L594.81,236.02 L596.70,236.15 L598.60,236.27 L600.49,236.38 L602.39,236.49 L604.28,236.59 L606.18,236.69 L608.07,236.77 L609.97,236.85 L611.86,236.92 L613.75,236.98 L615.64,237.02 L617.54,237.06 L619.43,237.09 L621.32,237.11 L623.21,237.12 L625.10,237.11 L626.99,237.10 L628.87,237.07 L630.76,237.03 L632.65,236.98 L634.54,236.91 L636.42,236.83 L638.31,236.73 L640.19,236.62 L642.08,236.50 L643.96,236.36 L645.84,236.22 L647.72,236.06 L649.61,235.89 L651.49,235.71 L653.37,235.52 L655.25,235.32 L657.14,235.12 L659.02,234.91 L660.90,234.69 L662.79,234.47 L664.67,234.25 L666.56,234.03 L668.44,233.80 L670.33,233.58 L672.22,233.35 L674.11,233.13 L676.00,232.91 L677.90,232.69 L679.79,232.48 L681.69,232.27 L683.58,232.06 L685.48,231.86 L687.38,231.66 L689.29,231.47 L691.19,231.28 L693.09,231.08 L694.99,230.89 L696.90,230.70 L698.80,230.51 L700.70,230.31 L702.61,230.12 L704.51,229.92 L706.41,229.72 L708.31,229.51 L710.21,229.30 L712.11,229.08 L714.00,228.86 L715.90,228.63 L717.79,228.39 L719.68,228.15 L721.57,227.89 L723.46,227.63 L725.34,227.36 L727.22,227.07 L729.10,226.77 L730.97,226.47 L732.84,226.15 L734.71,225.81 L736.57,225.46 L738.43,225.10 L740.28,224.72 L742.14,224.33 L743.98,223.92 L745.82,223.49 L747.66,223.05 L749.49,222.59 L751.32,222.12 L753.15,221.63 L754.97,221.13 L756.79,220.62 L758.60,220.09 L760.41,219.55 L762.21,218.99 L764.01,218.43 L765.81,217.84 L767.60,217.25 L769.39,216.64 L771.18,216.03 L772.96,215.40 L774.74,214.75 L776.52,214.10 L778.29,213.44 L780.06,212.76 L781.82,212.08 L783.58,211.38 L785.34,210.67 L787.09,209.96 L788.85,209.23 L790.59,208.50 L792.34,207.75 L794.08,207.00 L795.82,206.24 L797.56,205.47 L799.29,204.69 L801.02,203.90 L802.75,203.11 L804.47,202.30 L806.19,201.50 L807.91,200.68 L809.63,199.86 L811.34,199.03 L813.05,198.19 L814.76,197.35 L816.46,196.51 L818.17,195.65 L819.87,194.80 L821.57,193.94 L823.26,193.07 L824.96,192.20 L826.65,191.32 L828.34,190.44 L830.02,189.56 L831.71,188.67 L833.39,187.78 L835.07,186.89 L836.75,185.99 L838.43,185.10 L840.10,184.19 L841.78,183.29 L843.45,182.39 L845.12,181.48 L846.79,180.57 L848.46,179.66 L850.13,178.75 L851.80,177.83 L853.46,176.92 L855.13,176.00 L856.79,175.09 L858.46,174.17 L860.12,173.25 L861.78,172.34 L863.45,171.42 L865.11,170.50 L866.78,169.59 L868.44,168.67 L870.10,167.76 L871.77,166.84 L873.43,165.93 L875.10,165.02 L876.76,164.11 L878.43,163.21 L880.10,162.30 L881.76,161.40 L883.43,160.50 L885.10,159.60 L886.78,158.70 L888.45,157.81 L890.12,156.92 L891.80,156.03 L893.48,155.15 L895.16,154.27 L896.84,153.40 L898.52,152.53 L900.21,151.66 L901.89,150.80 L903.58,149.94 L905.27,149.09 L906.97,148.24 L908.67,147.40 L910.37,146.56 L912.07,145.73 L913.77,144.90 L915.48,144.08 L917.19,143.27 L918.91,142.46 L920.62,141.66 L922.35,140.87 L924.07,140.08 L925.80,139.30 L927.53,138.52 L929.27,137.76 L931.01,137.00 L932.75,136.25 L934.50,135.51 L936.25,134.77 L938.01,134.05 L939.77,133.33 L941.53,132.62 L943.30,131.92 L945.07,131.23 L946.85,130.55 L948.63,129.87 L950.42,129.20 L952.20,128.54 L953.99,127.88 L955.79,127.23 L957.58,126.59 L959.38,125.95 L961.18,125.32 L962.98,124.70 L964.79,124.07 L966.59,123.46 L968.40,122.84 L970.21,122.24 L972.02,121.63 L973.83,121.03 L975.64,120.43 L977.44,119.83 L979.25,119.24 L981.06,118.65 L982.87,118.06 L984.68,117.47 L986.49,116.89 L988.29,116.30 L990.10,115.72 L991.90,115.13 L993.70,114.55 L995.50,113.96 L997.30,113.38 L999.09,112.79 L1000.88,112.21 L1002.67,111.62 L1004.46,111.03 L1006.24,110.44 L1008.00,109.82 L1009.73,109.15 L1011.41,108.41 L1013.02,107.56 L1014.54,106.58 L1015.95,105.44 L1017.24,104.11 L1018.38,102.56" stroke="#000000" stroke-width="1.5"/>
</g>
<g stroke="#000" stroke-width="3" fill="none" stroke-linecap="butt">
<path d="M154.0,22.5 H1018.0 V657.5 H154.0 Z"/>
<path d="M145.0,657.45 H154.0"/>
<path d="M139.0,620.10 H154.0"/>
<path d="M145.0,582.75 H154.0"/>
<path d="M139.0,545.40 H154.0"/>
<path d="M145.0,508.05 H154.0"/>
<path d="M139.0,470.70 H154.0"/>
<path d="M145.0,433.35 H154.0"/>
<path d="M139.0,396.00 H154.0"/>
<path d="M145.0,358.65 H154.0"/>
<path d="M139.0,321.30 H154.0"/>
<path d="M145.0,283.95 H154.0"/>
<path d="M139.0,246.60 H154.0"/>
<path d="M145.0,209.25 H154.0"/>
<path d="M139.0,171.90 H154.0"/>
<path d="M145.0,134.55 H154.0"/>
<path d="M139.0,97.20 H154.0"/>
<path d="M145.0,59.85 H154.0"/>
<path d="M139.0,22.50 H154.0"/>
<path d="M168.60,657.5 V671.0"/>
<path d="M244.40,657.5 V664.5"/>
<path d="M320.20,657.5 V671.0"/>
<path d="M396.00,657.5 V664.5"/>
<path d="M471.80,657.5 V671.0"/>
<path d="M547.60,657.5 V664.5"/>
<path d="M623.40,657.5 V671.0"/>
<path d="M699.20,657.5 V664.5"/>
<path d="M775.00,657.5 V671.0"/>
<path d="M850.80,657.5 V664.5"/>
<path d="M926.60,657.5 V671.0"/>
<path d="M1002.40,657.5 V664.5"/>
</g>
<g font-family="Liberation Sans, sans-serif" font-weight="bold" fill="#000">
<text x="131.5" y="630.10" font-size="36" text-anchor="end">76</text>
<text x="131.5" y="555.40" font-size="36" text-anchor="end">78</text>
<text x="131.5" y="480.70" font-size="36" text-anchor="end">80</text>
<text x="131.5" y="406.00" font-size="36" text-anchor="end">82</text>
<text x="131.5" y="331.30" font-size="36" text-anchor="end">84</text>
<text x="131.5" y="256.60" font-size="36" text-anchor="end">86</text>
<text x="131.5" y="181.90" font-size="36" text-anchor="end">88</text>
<text x="131.5" y="107.20" font-size="36" text-anchor="end">90</text>
<text x="131.5" y="32.50" font-size="36" text-anchor="end">92</text>
<text x="168.60" y="707.5" font-size="36" text-anchor="middle">400</text>
<text x="320.20" y="707.5" font-size="36" text-anchor="middle">450</text>
<text x="471.80" y="707.5" font-size="36" text-anchor="middle">500</text>
<text x="623.40" y="707.5" font-size="36" text-anchor="middle">550</text>
<text x="775.00" y="707.5" font-size="36" text-anchor="middle">600</text>
<text x="926.60" y="707.5" font-size="36" text-anchor="middle">650</text>
<text x="402" y="777" font-size="51" letter-spacing="0.37">Wavelength (nm)</text>
<text transform="translate(47.3,561.4) rotate(-90)" font-size="52" letter-spacing="-0.15">Transmission (%)</text>
<path d="M548.5,487.2 H619.5" stroke="#008000" stroke-width="7" stroke-linecap="round" fill="none"/>
<text x="991" y="498.0" font-size="30.7" text-anchor="end">7 vol. % of SiO<tspan dy="5">2</tspan><tspan dy="-5"> in TiO</tspan><tspan dy="5">2</tspan></text>
<path d="M548.5,527.4 H619.5" stroke="#ff0000" stroke-width="4.2" stroke-linecap="round" fill="none"/>
<text x="991" y="538.2" font-size="30.7" text-anchor="end">10 vol. % of SiO<tspan dy="5">2</tspan><tspan dy="-5"> in TiO</tspan><tspan dy="5">2</tspan></text>
<path d="M548.5,567.6 H619.5" stroke="#0000ff" stroke-width="3" stroke-linecap="round" fill="none"/>
<text x="991" y="578.4" font-size="30.7" text-anchor="end">15 vol. % of SiO<tspan dy="5">2</tspan><tspan dy="-5"> in TiO</tspan><tspan dy="5">2</tspan></text>
<path d="M548.5,607.8 H619.5" stroke="#000000" stroke-width="1.6" stroke-linecap="round" fill="none"/>
<text x="991" y="618.6" font-size="30.7" text-anchor="end">20 vol. % of SiO<tspan dy="5">2</tspan><tspan dy="-5"> in TiO</tspan><tspan dy="5">2</tspan></text>
</g>
</svg>
</body></html>
